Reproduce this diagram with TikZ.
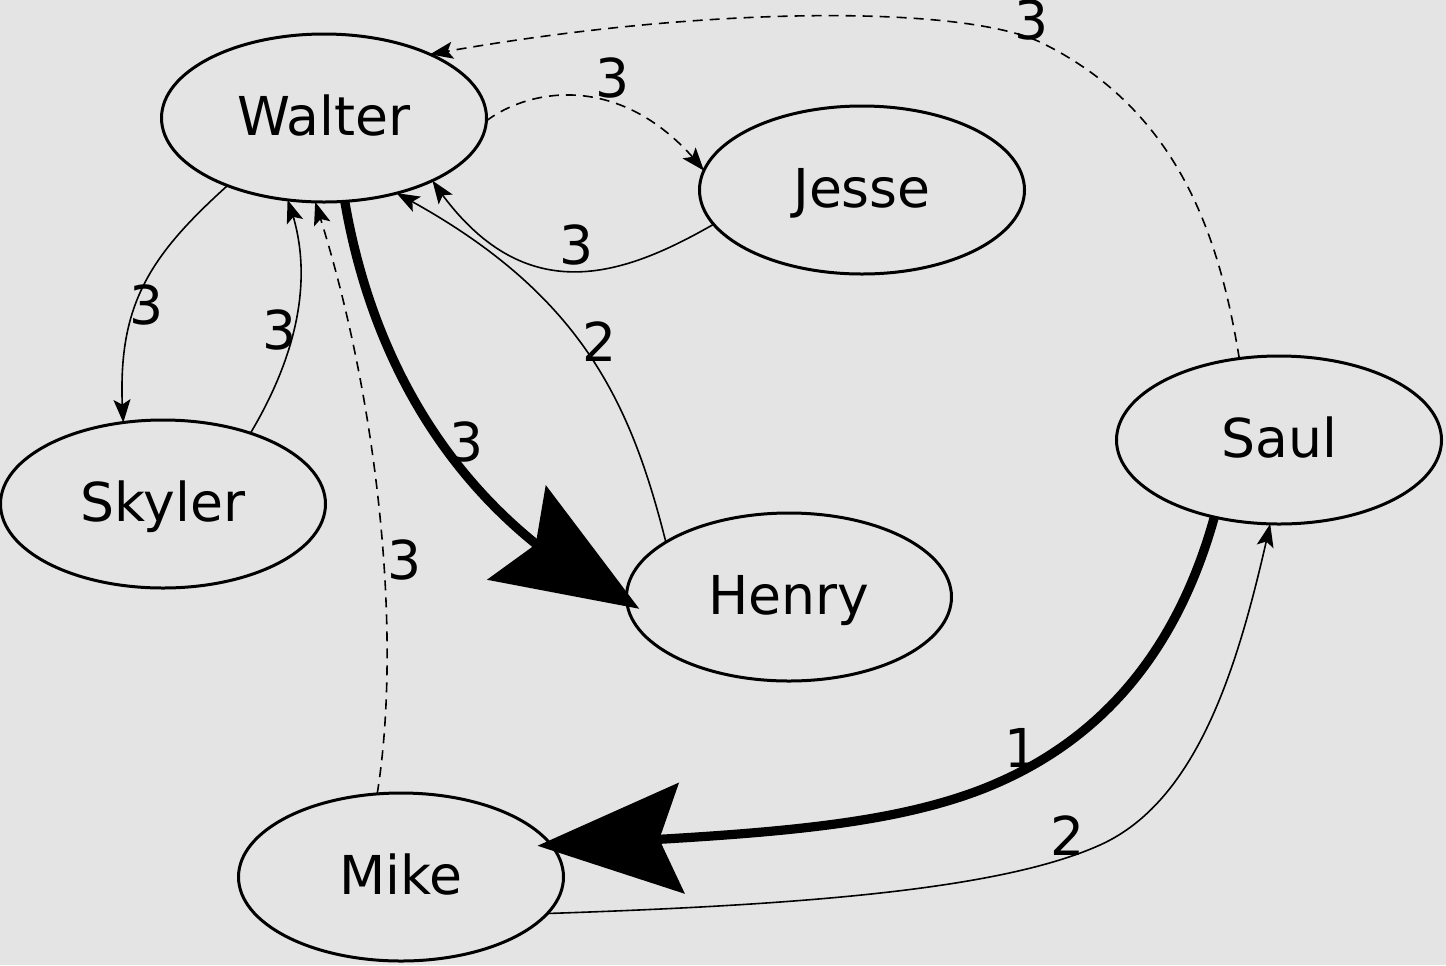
\documentclass[tikz,border=0pt]{standalone}
\usepackage{fontspec}
\setmainfont{DejaVu Sans}
\usetikzlibrary{shapes.geometric,arrows.meta,bending}
\definecolor{bg}{RGB}{228,228,228}
\tikzset{
  person/.style={draw=black, line width=1.5pt, ellipse, minimum width=162.5pt, minimum height=84pt,
    inner sep=0pt, outer sep=0pt, text depth=1pt, text height=18pt,
    font=\fontsize{26.8}{30}\selectfont},
  weight/.style={inner sep=0pt, font=\fontsize{26.8}{30}\selectfont},
  thinedge/.style={line width=0.8pt, -{Stealth[length=11.5pt, width=8.5pt, inset=2.5pt]}},
  dashedge/.style={thinedge, dash pattern=on 5pt off 3.5pt},
  heavyedge/.style={line width=4.6pt, shorten >=-7pt, -{Stealth[length=72pt, width=55pt, inset=11pt]}},
}
\begin{document}
\begin{tikzpicture}[x=0.5pt, y=-0.5pt]
\fill[bg] (0,0) rectangle (1446,965);
\useasboundingbox (0,0) rectangle (1446,965);

\node[person] (Walter) at (324,118) {Walter};
\node[person] (Jesse)  at (862,190) {Jesse};
\node[person] (Skyler) at (163,504) {Skyler};
\node[person] (Saul)   at (1279,440) {Saul};
\node[person] (Henry)  at (789,597) {Henry};
\node[person] (Mike)   at (401,877) {Mike};

% Saul -> Walter
\draw[dashedge] (Saul.116) .. controls (1220,240) and (1180,110) .. (1040,42)
  .. controls (960,5) and (700,5) .. (Walter.31);
% Walter -> Jesse
\draw[dashedge] (Walter.-1) .. controls (530,88) and (625,70) .. (Jesse.173);
% Jesse -> Walter
\draw[thinedge] (Jesse.193) .. controls (620,278) and (520,312) .. (Walter.-30);
% Walter -> Skyler
\draw[thinedge] (Walter.-145) .. controls (145,260) and (115,310) .. (Skyler.116);
% Skyler -> Walter
\draw[thinedge] (Skyler.39) .. controls (300,350) and (315,270) .. (Walter.-114);
% Mike -> Walter
\draw[dashedge] (Mike.106) .. controls (402,640) and (380,400) .. (Walter.-96);
% Walter -> Henry
\draw[heavyedge] (Walter.-76) .. controls (372,360) and (455,515) .. (Henry.-178);
% Henry -> Walter
\draw[thinedge] (Henry.156) .. controls (630,400) and (580,290) .. (Walter.-46);
% Saul -> Mike
\draw[heavyedge] (Saul.-130) .. controls (1180,640) and (1110,740) .. (980,790)
  .. controls (880,828) and (750,835) .. (Mike.12);
% Mike -> Saul
\draw[thinedge] (Mike.-14) .. controls (800,905) and (1000,890) .. (1100,845)
  .. controls (1200,800) and (1240,660) .. (Saul.-96);

\node[weight] (l1)  at (1032,20)  {3};
\node[weight] (l2)  at (613,78)   {3};
\node[weight] (l3)  at (577,245)  {3};
\node[weight] (l4)  at (147,305)  {3};
\node[weight] (l5)  at (280,330)  {3};
\node[weight] (l6)  at (405,560)  {3};
\node[weight] (l7)  at (467,442)  {3};
\node[weight] (l8)  at (600,342)  {2};
\node[weight] (l9)  at (1022,748) {1};
\node[weight] (l10) at (1068,836) {2};
\end{tikzpicture}
\end{document}
